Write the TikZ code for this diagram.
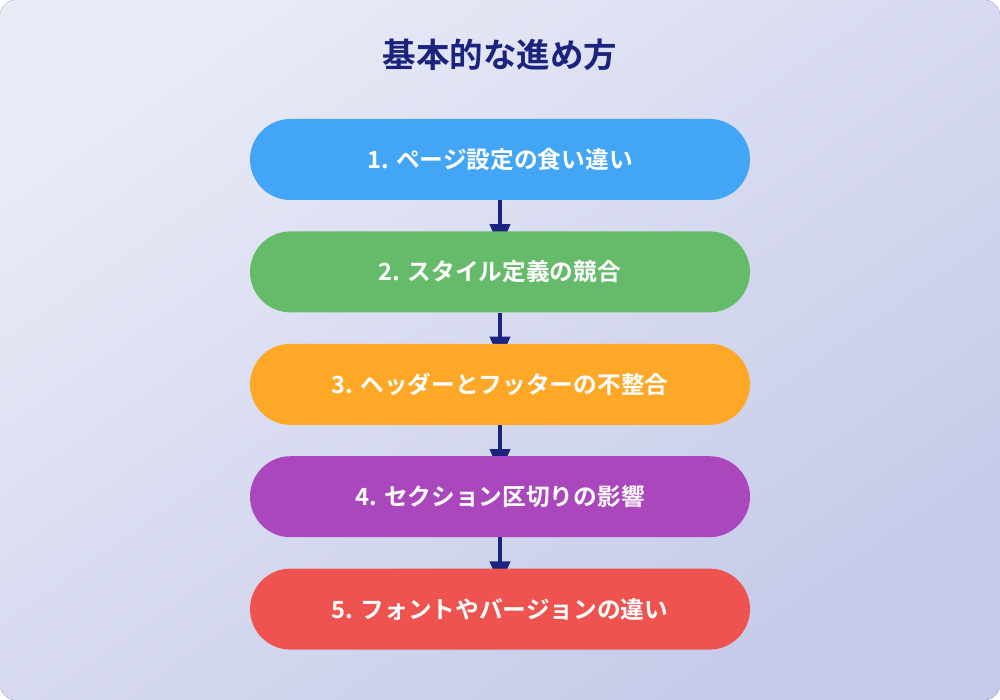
\documentclass[tikz,border=0pt]{standalone}
\usepackage{fontspec}
\setmainfont{Noto Sans CJK JP}[BoldFont={* Bold}]
\usepackage{xcolor}
\usepackage{tikz}
\usetikzlibrary{positioning, calc, arrows.meta}
\definecolor{bgtop}{RGB}{232, 234, 246}
\definecolor{bgbottom}{RGB}{197, 202, 233}
\definecolor{titlenavy}{RGB}{26, 35, 126}
\definecolor{stepblue}{RGB}{66, 165, 245}
\definecolor{stepgreen}{RGB}{102, 187, 106}
\definecolor{steporange}{RGB}{255, 167, 38}
\definecolor{steppurple}{RGB}{171, 71, 188}
\definecolor{stepred}{RGB}{239, 83, 80}
\pgfdeclarelayer{bglayer}
\pgfdeclarelayer{arrowlayer}
\pgfsetlayers{bglayer,arrowlayer,main}
\tikzset{
    stepbox/.style={
        rectangle, rounded corners=40.5pt, minimum width=500pt,
        minimum height=81pt, inner sep=0pt, text=white,
        font=\bfseries\fontsize{23.7pt}{28pt}\selectfont
    },
    titlenode/.style={
        text=titlenavy, font=\bfseries\fontsize{33.5pt}{40pt}\selectfont
    },
    flowptr/.style={
        -{Triangle[width=20pt, length=24pt]}, line width=4pt, titlenavy
    }
}

\begin{document}
\begin{tikzpicture}[
        x=1pt, y=-1pt,
        node distance=31pt
    ]

        % --- 1. NỀN ---
        \begin{pgfonlayer}{bglayer}
            \fill[white] (0,0) rectangle (1000,700);
            \fill[rounded corners=16pt, left color=bgtop, right color=bgbottom,
                shading angle=35] (0,0) rectangle (1000,700);
        \end{pgfonlayer}
        \useasboundingbox (0,0) rectangle (1000,700);

        % --- 2. TIÊU ĐỀ VÀ CÁC BƯỚC ---
        \node[titlenode] (title) at (500,55) {基本的な進め方};
        \node[stepbox, fill=stepblue] (s1) at (500,159.5) {1. ページ設定の食い違い};
        \node[stepbox, fill=stepgreen, below=of s1] (s2) {2. スタイル定義の競合};
        \node[stepbox, fill=steporange, below=of s2] (s3) {3. ヘッダーとフッターの不整合};
        \node[stepbox, fill=steppurple, below=of s3] (s4) {4. セクション区切りの影響};
        \node[stepbox, fill=stepred, below=of s4] (s5) {5. フォントやバージョンの違い};

        % --- 3. MŨI TÊN ---
        \begin{pgfonlayer}{arrowlayer}
            \foreach \a/\b in {s1/s2, s2/s3, s3/s4, s4/s5}
                \draw[flowptr] (\a.south) -- ($(\b.north)+(0,17)$);
        \end{pgfonlayer}

    \end{tikzpicture}
\end{document}
